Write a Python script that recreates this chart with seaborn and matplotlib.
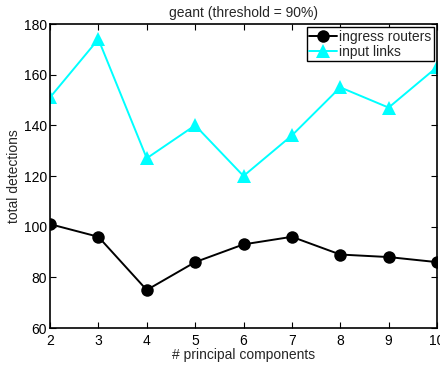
import matplotlib
matplotlib.use("Agg")
import matplotlib.pyplot as plt
import seaborn as sns
import pandas as pd

components = [2, 3, 4, 5, 6, 7, 8, 9, 10]
ingress_routers = [101, 96, 75, 86, 93, 96, 89, 88, 86]
input_links = [151, 174, 127, 140, 120, 136, 155, 147, 163]
series_names = ["ingress routers", "input links"]
x_ticks = [2, 3, 4, 5, 6, 7, 8, 9, 10]
y_ticks = [60, 80, 100, 120, 140, 160, 180]

df = pd.DataFrame({
    "pc": components * 2,
    "det": ingress_routers + input_links,
    "series": [series_names[0]] * len(components) + [series_names[1]] * len(components),
})

sns.set_style("ticks")
plt.rcParams["font.family"] = ["Liberation Sans", "DejaVu Sans"]

fs = 10
fig = plt.figure(figsize=(4.4, 3.66), dpi=100)
ax = fig.add_axes([50 / 440, (366 - 328) / 366, (437 - 50) / 440, (328 - 24) / 366])

sns.lineplot(
    data=df, x="pc", y="det", hue="series", style="series",
    palette={series_names[0]: "black", series_names[1]: "#00FFFF"},
    markers={series_names[0]: "o", series_names[1]: "^"},
    dashes=False, markersize=9, markeredgewidth=0, linewidth=1.4, ax=ax,
)
for ln in ax.lines:
    if ln.get_marker() == "^":
        ln.set_markersize(10.5)

ax.set_xlim(2, 10)
ax.set_ylim(60, 180)
ax.set_xticks(x_ticks)
ax.set_yticks(y_ticks)
ax.tick_params(direction="in", top=True, right=True, length=4, width=0.8,
               labelsize=fs, pad=2, colors="black")
ax.tick_params(axis="x", pad=4)
for s in ax.spines.values():
    s.set_linewidth(1.2)
    s.set_color("black")
ax.set_xlabel("# principal components", fontsize=fs, labelpad=0)
ax.set_ylabel("total detections", fontsize=fs, labelpad=2)
ax.set_title("geant (threshold = 90%)", fontsize=fs, pad=5)

leg = ax.legend(loc="upper right", fontsize=fs, frameon=True, fancybox=False,
                edgecolor="black", framealpha=1, borderpad=0.15, handlelength=2.0,
                handletextpad=0.15, labelspacing=0.1, borderaxespad=0.25)
leg.get_frame().set_linewidth(1.0)

fig.savefig("out.png", dpi=100)
